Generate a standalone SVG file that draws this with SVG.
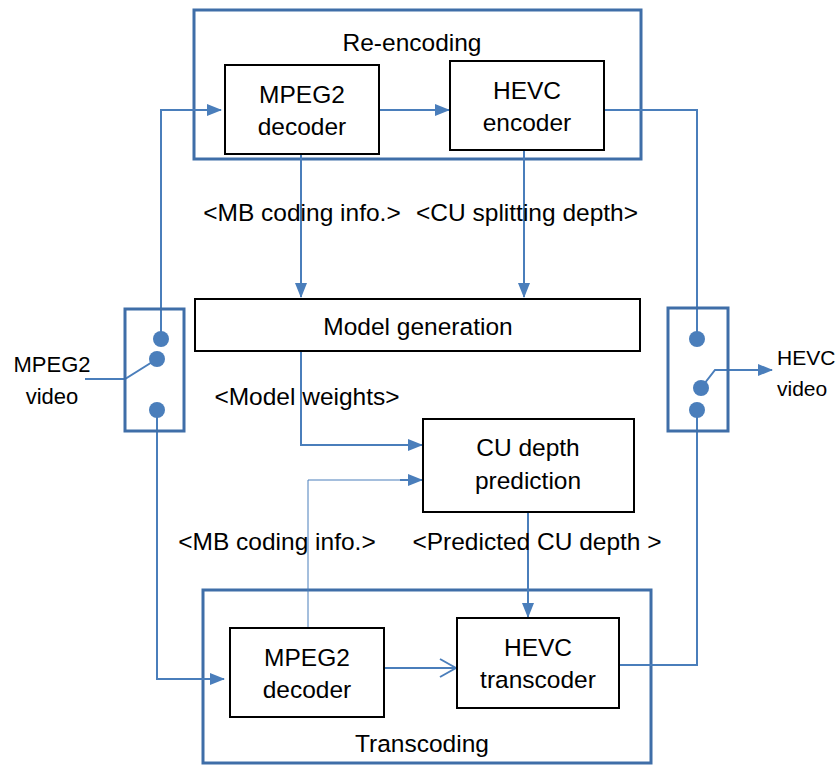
<svg xmlns="http://www.w3.org/2000/svg" width="838" height="765" viewBox="0 0 838 765">
<style>
text{font-family:"Liberation Sans",Arial,sans-serif;font-size:24.5px;fill:#000;text-anchor:middle}
.side{font-size:22px}
.sideR{font-size:21px;text-anchor:start}
.box{fill:#fff;stroke:#000;stroke-width:2}
.cont{fill:none;stroke:#3f6ea8;stroke-width:3}
.sw{fill:none;stroke:#3f6ea8;stroke-width:3}
.ln{fill:none;stroke:#4a7ebb;stroke-width:2}
.thin{fill:none;stroke:#4a7ebb;stroke-width:1}
.dot{fill:#4a7ebb}
</style>
<defs>
<marker id="ah" markerWidth="15" markerHeight="12" refX="14" refY="6" orient="auto" markerUnits="userSpaceOnUse">
<path d="M0,0 L15,6 L0,12 Z" fill="#4a7ebb"/>
</marker>
<marker id="oa" markerWidth="18" markerHeight="20" refX="17" refY="10" orient="auto" markerUnits="userSpaceOnUse">
<path d="M1,1 L17,10 L1,19" fill="none" stroke="#4a7ebb" stroke-width="2"/>
</marker>
</defs>
<rect width="838" height="765" fill="#fff"/>
<g id="reencoding">
<rect class="cont" x="194" y="10" width="447" height="149"/>
<text x="412" y="51">Re-encoding</text>
</g>
<g id="transcoding">
<rect class="cont" x="203" y="590" width="448" height="173"/>
<text x="422" y="752">Transcoding</text>
</g>
<g id="connectors">
<polyline class="ln" points="161,339 161,110 221,110" marker-end="url(#ah)"/>
<line class="ln" x1="379" y1="110" x2="449" y2="110" marker-end="url(#ah)"/>
<polyline class="ln" points="604,110 697,110 697,339"/>
<line class="ln" x1="301" y1="154" x2="301" y2="297" marker-end="url(#ah)"/>
<line class="ln" x1="524" y1="150" x2="524" y2="297" marker-end="url(#ah)"/>
<polyline class="ln" points="301,351 301,445 422,445" marker-end="url(#ah)"/>
<polyline class="thin" points="308,628 308,480 410,480"/>
<line class="ln" x1="400" y1="480" x2="422" y2="480" marker-end="url(#ah)"/>
<line class="ln" x1="528" y1="512" x2="528" y2="617" marker-end="url(#ah)"/>
<polyline class="ln" points="157,410 157,679 224,679" marker-end="url(#ah)"/>
<line class="ln" x1="384" y1="668" x2="456" y2="668" marker-end="url(#oa)"/>
<polyline class="ln" points="619,665 697,665 697,410"/>
<polyline class="ln" points="85,379 125,379 157,359"/>
<polyline class="ln" points="701,388 715,370 772,370" marker-end="url(#ah)"/>
</g>
<g id="mpeg2_decoder_top">
<rect class="box" x="225" y="65" width="154" height="89"/>
<text x="302" y="103">MPEG2</text>
<text x="302" y="135">decoder</text>
</g>
<g id="hevc_encoder">
<rect class="box" x="450" y="61" width="154" height="89"/>
<text x="527" y="99">HEVC</text>
<text x="527" y="131">encoder</text>
</g>
<g id="labels">
<text x="302" y="221">&lt;MB coding info.&gt;</text>
<text x="527" y="221">&lt;CU splitting depth&gt;</text>
<text x="307" y="405">&lt;Model weights&gt;</text>
<text x="277" y="550">&lt;MB coding info.&gt;</text>
<text x="537" y="550">&lt;Predicted CU depth &gt;</text>
</g>
<g id="model_generation">
<rect class="box" x="195" y="299" width="445" height="52"/>
<text x="418" y="335">Model generation</text>
</g>
<g id="cu_depth_prediction">
<rect class="box" x="423" y="419" width="211" height="93"/>
<text x="528" y="456">CU depth</text>
<text x="528" y="489">prediction</text>
</g>
<g id="mpeg2_decoder_bottom">
<rect class="box" x="230" y="628" width="154" height="89"/>
<text x="307" y="666">MPEG2</text>
<text x="307" y="698">decoder</text>
</g>
<g id="hevc_transcoder">
<rect class="box" x="457" y="618" width="162" height="90"/>
<text x="538" y="656">HEVC</text>
<text x="538" y="688">transcoder</text>
</g>
<g id="switch_left">
<rect class="sw" x="125" y="309" width="59" height="122"/>
<circle class="dot" cx="161" cy="339" r="8"/>
<circle class="dot" cx="157" cy="359" r="8"/>
<circle class="dot" cx="157" cy="410" r="8"/>
</g>
<g id="switch_right">
<rect class="sw" x="668" y="308" width="60" height="123"/>
<circle class="dot" cx="697" cy="339" r="8"/>
<circle class="dot" cx="701" cy="388" r="8"/>
<circle class="dot" cx="697" cy="410" r="8"/>
</g>
<g id="mpeg2_video">
<text class="side" x="52" y="372">MPEG2</text>
<text class="side" x="52" y="404">video</text>
</g>
<g id="hevc_video">
<text class="sideR" x="777" y="365">HEVC</text>
<text class="sideR" x="777" y="396">video</text>
</g>
</svg>
